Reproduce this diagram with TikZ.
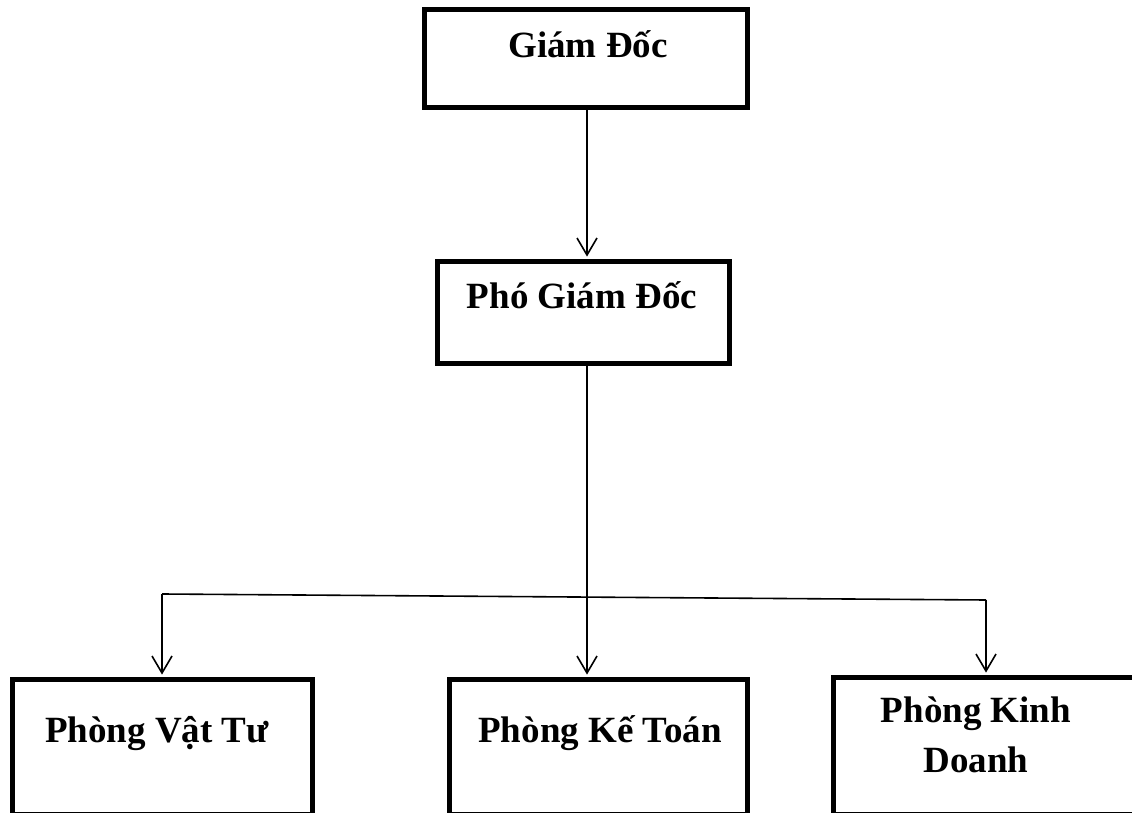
\documentclass[tikz,border=0pt]{standalone}
\usepackage{fontspec}
\setmainfont{Liberation Serif}
\usetikzlibrary{arrows.meta}
\tikzset{
  orgbox/.style={draw=black, line width=2.4pt, fill=white, inner sep=0pt},
  lbl/.style={font=\fontsize{18.5}{25}\selectfont\bfseries, anchor=base, inner sep=0pt},
  conn/.style={draw=black, line width=0.8pt},
  tip/.style={-{Straight Barb[length=8.5pt,width=10pt,line width=0.8pt]}}
}
\begin{document}
\begin{tikzpicture}[x=0.5pt,y=-0.5pt]
\useasboundingbox (0,0) rectangle (1132,813);
% boxes
\node[orgbox, minimum width=161.6pt, minimum height=49.1pt] (gd) at (586,58.5) {};
\node[lbl] (gdt) at (588,58) {Giám Đốc};
\node[orgbox, minimum width=146.1pt, minimum height=51.1pt] (pgd) at (583.5,312.5) {};
\node[lbl] (pgdt) at (582,308) {Phó Giám Đốc};
\node[orgbox, minimum width=150.1pt, minimum height=67.6pt] (pvt) at (162.5,747) {};
\node[lbl] (pvtt) at (157,742) {Phòng Vật Tư};
\node[orgbox, minimum width=149.1pt, minimum height=67.6pt] (pkt) at (598.5,747) {};
\node[lbl] (pktt) at (600,742) {Phòng Kế Toán};
\node[orgbox, minimum width=152.6pt, minimum height=68.6pt] (pkd) at (986,746) {};
\node[lbl] (pkdt1) at (976,722) {Phòng Kinh};
\node[lbl] (pkdt2) at (976,772) {Doanh};
% connectors
\coordinate (trunk) at (587,0);
\coordinate (hl) at (162,594);
\coordinate (hr) at (986,600);
\draw[conn, tip] (gd.south -| trunk) -- ([yshift=1.2pt]pgd.north -| trunk);
\draw[conn, tip] (pgd.south -| trunk) -- ([yshift=1.2pt]pkt.north -| trunk);
\draw[conn] (hl) -- (hr);
\draw[conn, tip] (hl) -- ([yshift=1.2pt]pvt.north -| hl);
\draw[conn, tip] (hr) -- ([yshift=1.2pt]pkd.north -| hr);
\end{tikzpicture}
\end{document}
